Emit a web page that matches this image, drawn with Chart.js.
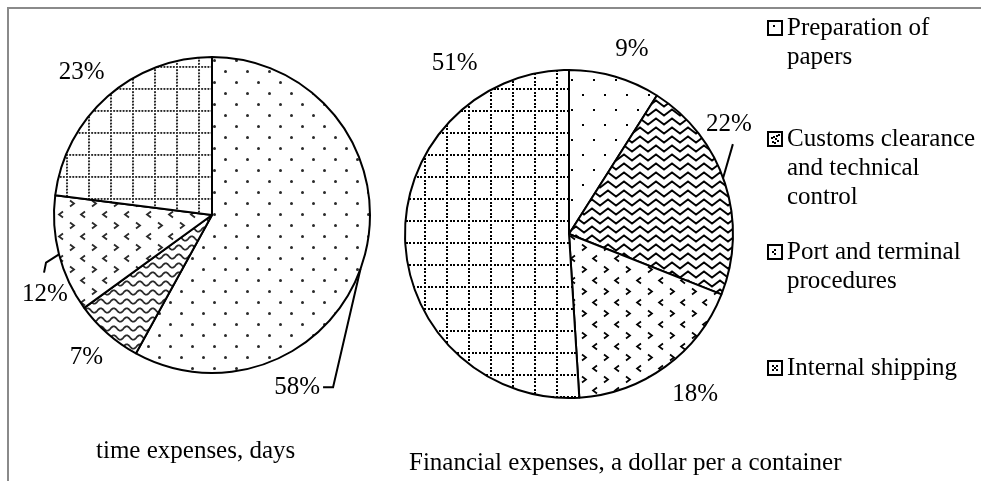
<!DOCTYPE html>
<html><head><meta charset="utf-8">
<script src="https://cdn.jsdelivr.net/npm/chart.js@4.4.1/dist/chart.umd.min.js"></script>
<style>
html,body{margin:0;padding:0;background:#fff;}
#wrap{position:relative;width:981px;height:481px;overflow:hidden;font-family:"Liberation Serif","Times New Roman",serif;color:#000;background:#fff;}
.frame-top{position:absolute;left:7px;top:7px;width:974px;height:2px;background:#8a8a8a;}
.frame-left{position:absolute;left:7px;top:7px;width:2px;height:474px;background:#8a8a8a;}
canvas.chart{position:absolute;top:0;}
#legend{position:absolute;left:767px;top:0;width:214px;height:481px;}
.item{position:absolute;left:0;width:214px;font-size:25px;line-height:29px;}
.sw{position:absolute;left:0;}
.txt{position:absolute;left:20px;top:0;white-space:nowrap;}
</style></head>
<body>
<div id="wrap">
  <div class="frame-top"></div>
  <div class="frame-left"></div>
  <canvas id="c1" class="chart" width="430" height="481" style="left:0px"></canvas>
  <canvas id="c2" class="chart" width="480" height="481" style="left:380px"></canvas>
  <div id="legend"></div>
</div>
<script>
// ---- data ----
const categories = ['Preparation of papers', 'Customs clearance and technical control', 'Port and terminal procedures', 'Internal shipping'];
const legendLines = [['Preparation of', 'papers'], ['Customs clearance', 'and technical', 'control'], ['Port and terminal', 'procedures'], ['Internal shipping']];
const timeShares = [58, 7, 12, 23];
const costShares = [9, 22, 18, 51];
const chartTitles = ['time expenses, days', 'Financial expenses, a dollar per a container'];

// ---- label placement (angle clockwise from top in degrees, distance from centre) ----
const timePlace = [
  {angle: 153.7, dist: 192, leader: {from: 110, pts: [[36, 0], [26, 0]]}},
  {angle: 221.4, dist: 190},
  {angle: 244.5, dist: 185, leader: {from: 255.6, pts: [[1, -32], [-1, -22]]}},
  {angle: 317.5, dist: 193}
];
const costPlace = [
  {angle: 18.8, dist: 195},
  {angle: 55.5, dist: 194, leader: {from: 70, pts: [[4, 20]]}},
  {angle: 141.8, dist: 204},
  {angle: 326.1, dist: 205}
];

// ---- patterns ----
function makeTile(w, h, draw) {
  const c = document.createElement('canvas');
  c.width = w; c.height = h;
  const g = c.getContext('2d');
  g.fillStyle = '#fff'; g.fillRect(0, 0, w, h);
  draw(g, w, h);
  return c;
}
function pat(tileCanvas) {
  return document.createElement('canvas').getContext('2d').createPattern(tileCanvas, 'repeat');
}
function dots(g, pts, r, col) {
  g.fillStyle = col;
  pts.forEach(p => { g.beginPath(); g.arc(p[0], p[1], r, 0, Math.PI * 2); g.fill(); });
}
function chevron(g, x, y, dir, col, lw) {
  g.strokeStyle = col; g.lineWidth = lw;
  g.beginPath();
  g.moveTo(x - 2 * dir, y - 3); g.lineTo(x + 2 * dir, y); g.lineTo(x - 2 * dir, y + 3);
  g.stroke();
}
const leftPatterns = [
  pat(makeTile(22, 22, g => dots(g, [[5.5, 5.5], [16.5, 16.5]], 1.5, '#2a2a2a'))),
  pat(makeTile(13, 9, (g, w) => {
    g.strokeStyle = '#2a2a2a'; g.lineWidth = 1.8; g.beginPath();
    for (let x = -1; x <= w + 1; x += 0.5) { const y = 4.5 + 2.2 * Math.sin(2 * Math.PI * x / w); if (x === -1) g.moveTo(x, y); else g.lineTo(x, y); }
    g.stroke();
  })),
  pat(makeTile(22, 22, g => { chevron(g, 6, 5.5, 1, '#2a2a2a', 1.8); chevron(g, 17, 16.5, -1, '#2a2a2a', 1.8); })),
  pat(makeTile(22, 22, g => {
    const p = [];
    for (let i = 0; i < 7; i++) { p.push([i * 22 / 7 + 1, 1]); if (i > 0) p.push([1, i * 22 / 7 + 1]); }
    dots(g, p, 1.1, '#2a2a2a');
  }))
];
const rightPatterns = [
  pat(makeTile(22, 30, g => { g.fillStyle = '#000'; g.fillRect(4, 4, 2, 2); g.fillRect(15, 19, 2, 2); })),
  pat(makeTile(16, 9, g => {
    g.strokeStyle = '#000'; g.lineWidth = 2; g.beginPath();
    g.moveTo(-4, 7.5); g.lineTo(0, 4.5); g.lineTo(4, 1.5); g.lineTo(8, 4.5); g.lineTo(12, 7.5); g.lineTo(16, 4.5); g.lineTo(20, 1.5);
    g.stroke();
  })),
  pat(makeTile(22, 22, g => { chevron(g, 6, 5.5, 1, '#000', 1.7); chevron(g, 17, 16.5, -1, '#000', 1.7); })),
  pat(makeTile(22, 22, g => {
    g.fillStyle = '#000';
    for (let i = 0; i < 6; i++) { const q = Math.round(i * 22 / 6); g.fillRect(q, 0, 2, 2); if (i > 0) g.fillRect(0, q, 2, 2); }
  }))
];

// ---- label plugin ----
function labelPlugin(values, place, title, titleOff) {
  return {
    id: 'pieLabels',
    afterDatasetsDraw(chart) {
      const meta = chart.getDatasetMeta(0);
      const a0 = meta.data[0];
      const cx = a0.x, cy = a0.y, r = a0.outerRadius;
      const ctx = chart.ctx;
      const pt = (deg, d) => { const t = deg * Math.PI / 180; return [cx + d * Math.sin(t), cy - d * Math.cos(t)]; };
      ctx.save();
      ctx.font = '25px "Liberation Serif", "Times New Roman", serif';
      ctx.fillStyle = '#000';
      ctx.textAlign = 'center';
      ctx.textBaseline = 'middle';
      values.forEach((v, i) => {
        const p = place[i];
        const [lx, ly] = pt(p.angle, p.dist);
        ctx.fillText(v + '%', lx, ly);
        if (p.leader) {
          const [ex, ey] = pt(p.leader.from, r);
          ctx.strokeStyle = '#000'; ctx.lineWidth = 2;
          ctx.beginPath(); ctx.moveTo(ex, ey);
          p.leader.pts.forEach(q => ctx.lineTo(lx + q[0], ly + q[1]));
          ctx.stroke();
        }
      });
      ctx.textAlign = 'left';
      ctx.textBaseline = 'alphabetic';
      ctx.fillText(title, cx + titleOff[0], cy + r + titleOff[1]);
      ctx.restore();
    }
  };
}

function makePie(id, values, patterns, pad, place, title, titleOff) {
  return new Chart(document.getElementById(id), {
    type: 'pie',
    data: {labels: categories, datasets: [{data: values, backgroundColor: patterns, borderColor: '#000', borderWidth: 2, hoverOffset: 0, offset: 0}]},
    options: {
      responsive: false, maintainAspectRatio: false, animation: false, events: [],
      layout: {padding: pad},
      plugins: {legend: {display: false}, tooltip: {enabled: false}, title: {display: false}}
    },
    plugins: [labelPlugin(values, place, title, titleOff)]
  });
}

makePie('c1', timeShares, leftPatterns, {left: 53, top: 56, right: 59, bottom: 107}, timePlace, chartTitles[0], [-116, 85]);
makePie('c2', costShares, rightPatterns, {left: 24, top: 69, right: 126, bottom: 82}, costPlace, chartTitles[1], [-160, 72]);

// ---- legend ----
const legendTops = [12, 123, 236, 352];
function drawSwatch(i) {
  const c = document.createElement('canvas');
  c.width = 16; c.height = 16; c.className = 'sw';
  const g = c.getContext('2d');
  g.fillStyle = '#fff'; g.fillRect(0, 0, 16, 16);
  g.fillStyle = '#000';
  if (i === 0) { g.fillRect(6, 5, 2, 2); }
  if (i === 1) { g.fillRect(4, 6, 2, 2); g.fillRect(6, 5, 2, 2); g.fillRect(8, 7, 2, 2); g.fillRect(10, 9, 2, 2); g.fillRect(9, 4, 2, 2); g.fillRect(11, 3, 2, 2); g.fillRect(5, 10, 2, 2); g.fillRect(7, 11, 2, 2); }
  if (i === 2) { g.fillRect(7, 5, 2, 2); g.fillRect(5, 7, 2, 2); g.fillRect(7, 9, 2, 2); }
  if (i === 3) { g.fillRect(5, 5, 2, 2); g.fillRect(9, 5, 2, 2); g.fillRect(5, 9, 2, 2); g.fillRect(9, 9, 2, 2); g.fillRect(7, 7, 2, 2); }
  g.strokeStyle = '#000'; g.lineWidth = 2; g.strokeRect(1, 1, 14, 14);
  return c;
}
const legend = document.getElementById('legend');
legendLines.forEach((lines, i) => {
  const item = document.createElement('div');
  item.className = 'item';
  item.style.top = legendTops[i] + 'px';
  const sw = drawSwatch(i);
  sw.style.top = '8px';
  item.appendChild(sw);
  const t = document.createElement('div');
  t.className = 'txt';
  t.innerHTML = lines.join('<br>');
  item.appendChild(t);
  legend.appendChild(item);
});
</script>
</body></html>
